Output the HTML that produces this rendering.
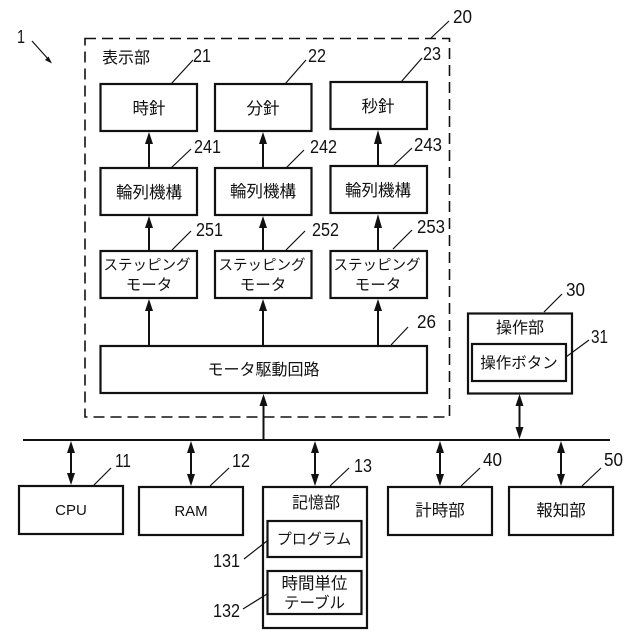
<!DOCTYPE html>
<html><head><meta charset="utf-8"><style>
html,body{margin:0;padding:0;background:#fff}
svg{display:block}
text{font-family:"Liberation Sans","Noto Sans CJK JP",sans-serif;font-size:16.5px;fill:#111}
.c{text-anchor:middle}
.n{font-size:18px}
.s{font-size:14.5px}
.m{font-size:15.5px}
rect{fill:#fff;stroke:#111;stroke-width:2.2}
line{stroke:#111;stroke-width:2}
.l{stroke-width:1.2}
path{fill:#111}
</style></head><body>
<svg width="640" height="640" viewBox="0 0 640 640" xmlns="http://www.w3.org/2000/svg">
<rect x="85" y="38.5" width="364.5" height="378.5" style="stroke-dasharray:11 6;stroke-width:1.6"/>
<!-- boxes -->
<rect x="100.5" y="84" width="96.500" height="47"/>
<rect x="215" y="84" width="96.500" height="47"/>
<rect x="330.5" y="82" width="96.500" height="47"/>
<rect x="100.5" y="168" width="96.500" height="47"/>
<rect x="215" y="168" width="96.500" height="47"/>
<rect x="330.5" y="166" width="96.500" height="47"/>
<rect x="100.5" y="251" width="96.500" height="47"/>
<rect x="215" y="251" width="96.500" height="47"/>
<rect x="330.5" y="251" width="96.500" height="47"/>
<rect x="100.5" y="346" width="326.500" height="47"/>
<rect x="468" y="313.500" width="104" height="80"/>
<rect x="472" y="344" width="94" height="37"/>
<rect x="19" y="486" width="104" height="48"/>
<rect x="139" y="487" width="104" height="48"/>
<rect x="263" y="487" width="104" height="141"/>
<rect x="267.500" y="521" width="94" height="36"/>
<rect x="267.500" y="571" width="94" height="43"/>
<rect x="388" y="487" width="104" height="48"/>
<rect x="509" y="487" width="104" height="48"/>
<!-- bus -->
<line x1="23" y1="440" x2="610" y2="440"/>
<!-- connectors -->
<g>
<line x1="149" y1="168" x2="149" y2="140"/><path d="M149 132l-4 12h8z"/>
<line x1="263" y1="168" x2="263" y2="140"/><path d="M263 132l-4 12h8z"/>
<line x1="378" y1="166" x2="378" y2="140"/><path d="M378 130l-4 14h8z"/>
<line x1="149" y1="251" x2="149" y2="224"/><path d="M149 216l-4 12h8z"/>
<line x1="263" y1="251" x2="263" y2="224"/><path d="M263 216l-4 12h8z"/>
<line x1="378" y1="251" x2="378" y2="224"/><path d="M378 214l-4 14h8z"/>
<line x1="149" y1="346" x2="149" y2="308"/><path d="M149 299l-4 12h8z"/>
<line x1="263" y1="346" x2="263" y2="308"/><path d="M263 299l-4 12h8z"/>
<line x1="378" y1="346" x2="378" y2="308"/><path d="M378 299l-4 12h8z"/>
<line x1="263.500" y1="440" x2="263.500" y2="402"/><path d="M263.500 394l-4 12h8z"/>
<line x1="71" y1="450" x2="71" y2="476"/><path d="M71 441l-4 12h8zM71 485l-4 -12h8z"/>
<line x1="191" y1="450" x2="191" y2="476"/><path d="M191 441l-4 12h8zM191 486l-4 -12h8z"/>
<line x1="315" y1="450" x2="315" y2="476"/><path d="M315 441l-4 12h8zM315 486l-4 -12h8z"/>
<line x1="440" y1="450" x2="440" y2="476"/><path d="M440 441l-4 12h8zM440 486l-4 -12h8z"/>
<line x1="561" y1="450" x2="561" y2="476"/><path d="M561 441l-4 12h8zM561 486l-4 -12h8z"/>
<line x1="519.500" y1="404" x2="519.500" y2="430"/><path d="M519.500 394l-4 12h8zM519.500 439l-4 -12h8z"/>
</g>
<!-- leaders -->
<g>
<line class="l" x1="32" y1="41" x2="49" y2="60"/><path d="M52 63.500l-7-3.500 3.500-3.500z"/>
<line class="l" x1="171" y1="84" x2="193" y2="60"/>
<line class="l" x1="285" y1="84" x2="306" y2="60"/>
<line class="l" x1="401" y1="82" x2="422" y2="58"/>
<line class="l" x1="431" y1="38" x2="449" y2="21"/>
<line class="l" x1="171" y1="168" x2="191" y2="149"/>
<line class="l" x1="286" y1="168" x2="304" y2="150"/>
<line class="l" x1="393" y1="166" x2="412" y2="148"/>
<line class="l" x1="172" y1="250" x2="191" y2="231"/>
<line class="l" x1="286" y1="250" x2="305" y2="231"/>
<line class="l" x1="393" y1="249" x2="412" y2="230"/>
<line class="l" x1="391" y1="345" x2="408" y2="327"/>
<line class="l" x1="544" y1="312" x2="562" y2="294"/>
<line class="l" x1="566" y1="357" x2="589" y2="340"/>
<line class="l" x1="93" y1="486" x2="111" y2="468"/>
<line class="l" x1="210" y1="486" x2="229" y2="468"/>
<line class="l" x1="330" y1="486" x2="349" y2="468"/>
<line class="l" x1="461" y1="486" x2="480" y2="468"/>
<line class="l" x1="582" y1="486" x2="601" y2="468"/>
<line class="l" x1="244" y1="559" x2="267" y2="541"/>
<line class="l" x1="243" y1="609" x2="267" y2="594"/>
</g>
<!-- labels -->
<g>
<text x="102" y="63" style="font-size:16px">表示部</text>
<text class="c" x="149" y="114">時針</text>
<text class="c" x="263" y="114">分針</text>
<text class="c" x="378" y="112">秒針</text>
<text class="c" x="149" y="198">輪列機構</text>
<text class="c" x="263" y="197">輪列機構</text>
<text class="c" x="378" y="196">輪列機構</text>
<text class="c s" x="147" y="270">ステッピング</text>
<text class="c m" x="149" y="290">モータ</text>
<text class="c s" x="262" y="270">ステッピング</text>
<text class="c m" x="263" y="290">モータ</text>
<text class="c s" x="377" y="270">ステッピング</text>
<text class="c m" x="378" y="290">モータ</text>
<text class="c" x="263.500" y="375" style="font-size:16px">モータ駆動回路</text>
<text class="c" x="520" y="333" style="font-size:16px">操作部</text>
<text class="c m" x="519" y="368">操作ボタン</text>
<text class="c" x="71" y="515" style="font-size:15px">CPU</text>
<text class="c" x="191" y="516" style="font-size:15px">RAM</text>
<text class="c" x="316" y="508" style="font-size:16px">記憶部</text>
<text class="c" x="314" y="544" style="font-size:15px">プログラム</text>
<text class="c" x="314.500" y="589">時間単位</text>
<text class="c m" x="314.500" y="608">テーブル</text>
<text class="c" x="440" y="516" style="font-size:16.5px">計時部</text>
<text class="c" x="561" y="516" style="font-size:16.5px">報知部</text>
<text class="n" x="17" y="43" textLength="8" lengthAdjust="spacingAndGlyphs">1</text>
<text class="n" x="193" y="62" textLength="18" lengthAdjust="spacingAndGlyphs">21</text>
<text class="n" x="308" y="62" textLength="18" lengthAdjust="spacingAndGlyphs">22</text>
<text class="n" x="423" y="60" textLength="18" lengthAdjust="spacingAndGlyphs">23</text>
<text class="n" x="453" y="23" textLength="19" lengthAdjust="spacingAndGlyphs">20</text>
<text class="n" x="194" y="153" textLength="27" lengthAdjust="spacingAndGlyphs">241</text>
<text class="n" x="310" y="153" textLength="27" lengthAdjust="spacingAndGlyphs">242</text>
<text class="n" x="414" y="151" textLength="28" lengthAdjust="spacingAndGlyphs">243</text>
<text class="n" x="196" y="236" textLength="27" lengthAdjust="spacingAndGlyphs">251</text>
<text class="n" x="312" y="236" textLength="27" lengthAdjust="spacingAndGlyphs">252</text>
<text class="n" x="417" y="233" textLength="28" lengthAdjust="spacingAndGlyphs">253</text>
<text class="n" x="417" y="328" textLength="19" lengthAdjust="spacingAndGlyphs">26</text>
<text class="n" x="566" y="296" textLength="19" lengthAdjust="spacingAndGlyphs">30</text>
<text class="n" x="591" y="343" textLength="17" lengthAdjust="spacingAndGlyphs">31</text>
<text class="n" x="115" y="467" textLength="16" lengthAdjust="spacingAndGlyphs">11</text>
<text class="n" x="232" y="467" textLength="18" lengthAdjust="spacingAndGlyphs">12</text>
<text class="n" x="354" y="472" textLength="18" lengthAdjust="spacingAndGlyphs">13</text>
<text class="n" x="483" y="466" textLength="19" lengthAdjust="spacingAndGlyphs">40</text>
<text class="n" x="604" y="466" textLength="19" lengthAdjust="spacingAndGlyphs">50</text>
<text class="n" x="213" y="567" textLength="27" lengthAdjust="spacingAndGlyphs">131</text>
<text class="n" x="213" y="617" textLength="27" lengthAdjust="spacingAndGlyphs">132</text>
</g>
</svg>
</body></html>
